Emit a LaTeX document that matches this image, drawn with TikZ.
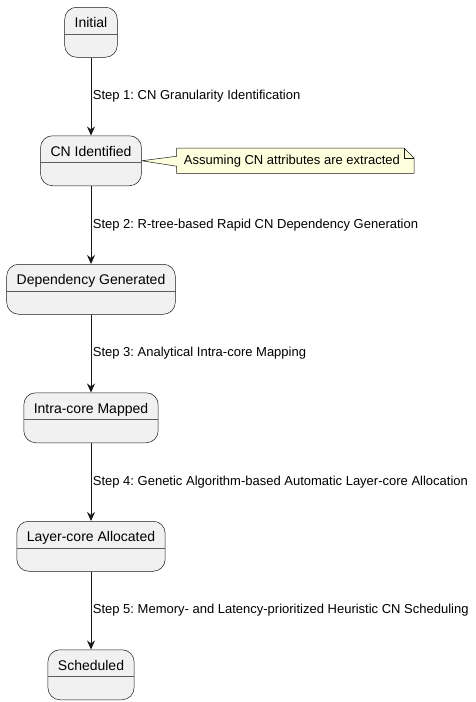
\documentclass[tikz,border=0pt]{standalone}
\usepackage{fontspec}
\setmainfont{Liberation Sans}
\usetikzlibrary{positioning,arrows.meta,backgrounds}

\definecolor{statefill}{HTML}{F1F1F1}
\definecolor{linegray}{HTML}{181818}
\definecolor{notefill}{HTML}{FEFFDD}

\frenchspacing

\begin{document}
\begin{tikzpicture}[
  x=1pt, y=1pt,
  every node/.style={font=\fontsize{13}{15}\selectfont},
  state-box/.style={draw=linegray,fill=statefill,line width=0.5pt,rounded corners=12pt,
    inner xsep=10pt,inner ysep=4pt,text height=16.5pt,text depth=25.5pt,
    font=\fontsize{14}{16}\selectfont,
    append after command={([yshift=-27pt]\tikzlastnode.north west)
      edge [draw=linegray!70,line width=0.4pt] ([yshift=-27pt]\tikzlastnode.north east)}},
  step-edge/.style={draw=linegray,line width=0.8pt,-{Stealth[length=9pt,width=8pt,inset=3pt]}},
  step-label/.style={right,inner xsep=1.5pt},
  note-box/.style={inner xsep=7pt,inner ysep=0pt,minimum height=25pt},
  ]

  \useasboundingbox (0,0) rectangle (475,-702);

  \node [state-box,anchor=north] (initial-state) at (91,-7) {Initial};
  \node [state-box,below=78pt of initial-state] (cn-identified-state) {CN Identified};
  \node [state-box,below=78pt of cn-identified-state] (dependency-state) {Dependency Generated};
  \node [state-box,below=78pt of dependency-state] (intra-core-state) {Intra-core Mapped};
  \node [state-box,below=78pt of intra-core-state] (layer-core-state) {Layer-core Allocated};
  \node [state-box,below=78pt of layer-core-state] (scheduled-state) {Scheduled};

  \draw [step-edge] (initial-state) -- node [step-label] {Step 1: CN Granularity Identification} (cn-identified-state);
  \draw [step-edge] (cn-identified-state) -- node [step-label] {Step 2: R-tree-based Rapid CN Dependency Generation} (dependency-state);
  \draw [step-edge] (dependency-state) -- node [step-label] {Step 3: Analytical Intra-core Mapping} (intra-core-state);
  \draw [step-edge] (intra-core-state) -- node [step-label] {Step 4: Genetic Algorithm-based Automatic Layer-core Allocation} (layer-core-state);
  \draw [step-edge] (layer-core-state) -- node [step-label] {Step 5: Memory- and Latency-prioritized Heuristic CN Scheduling} (scheduled-state);

  % note with folded corner
  \node [note-box,right=35pt of cn-identified-state] (extract-note) {Assuming CN attributes are extracted};
  \begin{scope}[on background layer]
    \filldraw [draw=linegray,fill=notefill,line width=0.5pt]
      (extract-note.north west) -- ([xshift=-3pt]extract-note.north east)
      -- ([xshift=7pt,yshift=-10pt]extract-note.north east) -- ([xshift=7pt]extract-note.south east)
      -- (extract-note.south west) -- ([yshift=-5.5pt]extract-note.west)
      -- (cn-identified-state.east) -- ([yshift=4.5pt]extract-note.west) -- cycle;
    \draw [linegray,line width=0.5pt] ([xshift=-3pt]extract-note.north east)
      -- ([xshift=-3pt,yshift=-10pt]extract-note.north east) -- ([xshift=7pt,yshift=-10pt]extract-note.north east);
  \end{scope}

\end{tikzpicture}
\end{document}
